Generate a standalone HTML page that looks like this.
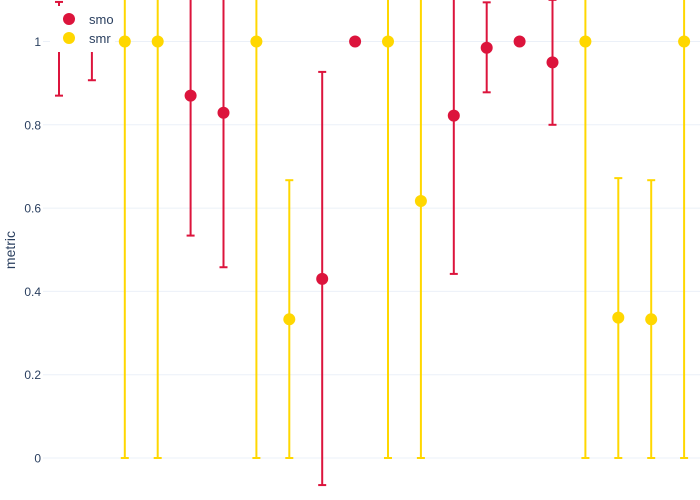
<!DOCTYPE html>
<html><head><meta charset="utf-8"><style>
body{margin:0;background:#fff;font-family:"Liberation Sans","Open Sans",sans-serif}
svg{display:block}
</style></head><body>
<svg id="chart" width="700" height="500">
<defs><clipPath id="plotclip"><rect x="43" y="0" width="657" height="500"/></clipPath></defs>
<g id="grid"></g>
<g id="yticks"></g>
<text x="15" y="250" transform="rotate(-90 15 250)" text-anchor="middle" font-size="14" fill="#2a3f5f">metric</text>
<g id="marks" clip-path="url(#plotclip)"></g>
<g>
<rect x="50" y="6" width="65" height="46" fill="#fff"/>
<circle cx="69" cy="19" r="6" fill="#dc143c"/>
<text x="89" y="24" font-size="13" fill="#2a3f5f">smo</text>
<circle cx="69" cy="38" r="6" fill="#ffd700"/>
<text x="89" y="43" font-size="13" fill="#2a3f5f">smr</text>
</g>
</svg>
<script>
const categories = [0,1,2,3,4,5,6,7,8,9,10,11,12,13,14,15,16,17,18,19];
const series = ["smo","smo","smr","smr","smo","smo","smr","smr","smo","smo","smr","smr","smo","smo","smo","smo","smr","smr","smr","smr"];
const values = [1,1,1,1,0.87,0.829,1,0.333,0.43,1,1,0.617,0.822,0.985,1,0.95,1,0.337,0.333,1];
const lowers = [0.87,0.907,0,0,0.534,0.458,0,0,-0.065,null,0,0,0.442,0.878,null,0.8,0,0,0,0];
const uppers = [1.095,1.05,1.2,1.2,1.2,1.2,1.2,0.667,0.927,null,1.2,1.2,1.2,1.094,null,1.1,1.2,0.672,0.667,1.2];
const yTicks = [0,0.2,0.4,0.6,0.8,1];
const yTickLabels = ["0","0.2","0.4","0.6","0.8","1"];
const colors = {smo:"#dc143c", smr:"#ffd700"};

const NS="http://www.w3.org/2000/svg";
function X(i){return 59+32.9*i;}
function Y(v){return 458-416.5*v;}
function mk(tag,attrs,parent){const e=document.createElementNS(NS,tag);for(const k in attrs)e.setAttribute(k,attrs[k]);parent.appendChild(e);return e;}
const grid=document.getElementById('grid'),yt=document.getElementById('yticks'),marks=document.getElementById('marks');
yTicks.forEach((t,i)=>{
  const l=mk('line',{x1:43,x2:700,y1:Y(t),y2:Y(t),stroke:'#ebf0f8','stroke-width':1},grid);
  
  
  const tx=mk('text',{x:41,y:Y(t)+4.5,'text-anchor':'end','font-size':12,fill:'#2a3f5f'},yt);
  tx.textContent=yTickLabels[i];
  
  
});
categories.forEach((c,i)=>{
  const col=colors[series[i]],x=X(c);
  if(lowers[i]!==null){
    const g=mk('g',{stroke:col,'stroke-width':2},marks);
    
    
    mk('line',{x1:x,x2:x,y1:Y(lowers[i]),y2:Y(uppers[i])},g);
    mk('line',{x1:x-4,x2:x+4,y1:Y(lowers[i]),y2:Y(lowers[i])},g);
    mk('line',{x1:x-4,x2:x+4,y1:Y(uppers[i]),y2:Y(uppers[i])},g);
  }
  const p=mk('circle',{cx:x,cy:Y(values[i]),r:6,fill:col},marks);
  
  
});
</script>
</body></html>
